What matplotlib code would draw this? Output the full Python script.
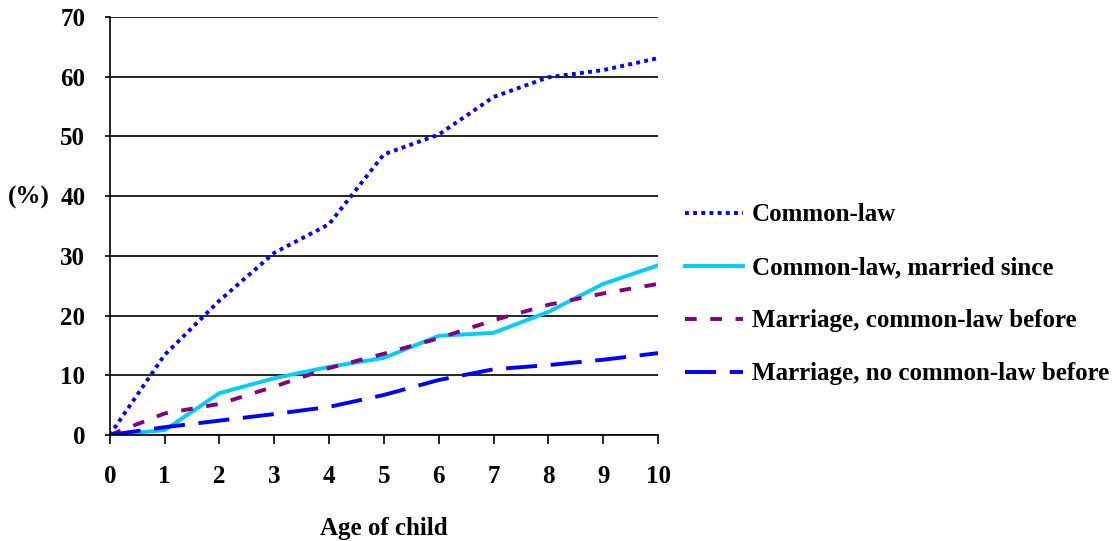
import matplotlib
matplotlib.use("Agg")
import matplotlib.pyplot as plt

# Data
ages = [0, 1, 2, 3, 4, 5, 6, 7, 8, 9, 10]
common_law = [0, 13.4, 22.5, 30.5, 35.3, 47.0, 50.3, 56.6, 59.9, 61.1, 63.1]
common_law_married = [0, 0.8, 7.0, 9.5, 11.4, 12.9, 16.6, 17.1, 20.6, 25.3, 28.4]
marriage_cl_before = [0, 3.6, 5.2, 8.1, 11.2, 13.6, 16.2, 19.2, 21.8, 23.7, 25.3]
marriage_no_cl = [0, 1.3, 2.4, 3.5, 4.7, 6.7, 9.2, 11.0, 11.7, 12.6, 13.7]

labels = ["Common-law", "Common-law, married since",
          "Marriage, common-law before", "Marriage, no common-law before"]
y_ticks = [0, 10, 20, 30, 40, 50, 60, 70]

plt.rcParams['font.family'] = ['Liberation Serif', 'DejaVu Serif']
plt.rcParams['font.weight'] = 'bold'

fig = plt.figure(figsize=(11.2, 5.41), dpi=100)
ax = fig.add_axes([0.098, 0.196, 0.4895, 0.7726])

ax.plot(ages, common_law, color='#0000FF', lw=2.8, linestyle=(0, (1, 1.1)), label=labels[0])
ax.plot(ages, common_law_married, color='#00CCFF', lw=2.8, label=labels[1])
ax.plot(ages, marriage_cl_before, color='#800080', lw=2.8, linestyle=(0, (3, 3.5)), label=labels[2])
ax.plot(ages, marriage_no_cl, color='#0000FF', lw=2.8, linestyle=(0, (8, 3.5)), label=labels[3])

ax.set_xlim(0, 10)
ax.set_ylim(0, 70)
ax.set_xticks(ages)
ax.set_yticks(y_ticks)
ax.yaxis.grid(True, color='black', lw=1.2)
ax.set_axisbelow(True)
for s in ['top', 'right']:
    ax.spines[s].set_visible(False)
ax.spines['left'].set_linewidth(1.2)
ax.spines['bottom'].set_linewidth(1.2)
ax.tick_params(axis='both', labelsize=18, width=1.2, colors='black')
ax.tick_params(axis='x', length=6.5, pad=15)
ax.tick_params(axis='y', length=3.6, pad=14)

ax.set_xlabel("Age of child", fontsize=18, fontweight='bold', labelpad=21)
fig.text(0.007, 1 - 197 / 541, "(%)", fontsize=18, fontweight='bold', va='center', ha='left')

fig.legend(loc='center left', bbox_to_anchor=(0.603, 0.456), frameon=False,
           fontsize=18, handlelength=2.3, handletextpad=0.35, labelspacing=1.2,
           borderaxespad=0)

fig.savefig("out.png", dpi=100)
